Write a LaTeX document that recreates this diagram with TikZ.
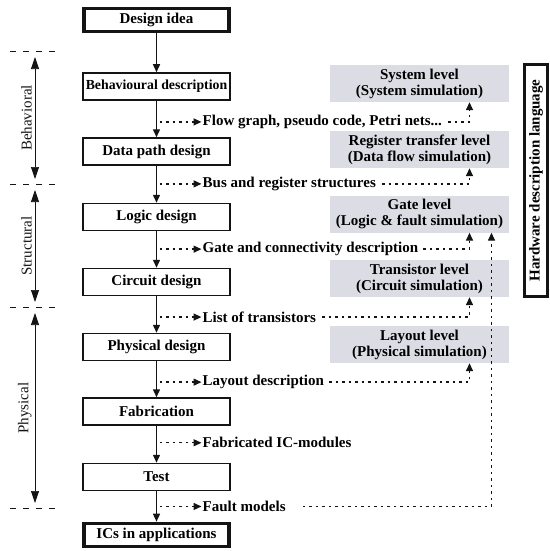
\documentclass[tikz,border=0pt]{standalone}
\usepackage{fontspec}
\setmainfont{Liberation Serif}
\usetikzlibrary{arrows.meta,calc}
\definecolor{levelgray}{HTML}{DCDCE5}
\definecolor{inkblack}{HTML}{141414}

\begin{document}
\begin{tikzpicture}[x=1pt,y=-1pt,
  stepbox/.style={draw=inkblack,line width=1.5pt,minimum width=147,minimum height=27,
    inner sep=1pt,font=\fontsize{15}{17}\selectfont\bfseries},
  endbox/.style={stepbox,line width=3.6pt,minimum width=145,minimum height=23},
  levelbox/.style={fill=levelgray,minimum width=179,minimum height=37,inner sep=0pt,
    align=center,font=\fontsize{15}{16}\selectfont\bfseries},
  outlbl/.style={anchor=west,inner sep=1pt,font=\fontsize{15}{17}\selectfont\bfseries},
  flow/.style={inkblack,line width=1.4pt,-{Triangle[length=8pt,width=7pt]}},
  dots/.style={inkblack,line width=1.4pt,dash pattern=on 2.5pt off 4pt},
  dotarrow/.style={dots,-{Triangle[length=8pt,width=7pt]}},
  phase/.style={inkblack,line width=0.7pt,
    {Triangle[length=12pt,width=8pt]}-{Triangle[length=12pt,width=8pt]}},
  phaselbl/.style={rotate=90,anchor=south,inner sep=3pt,font=\fontsize{15}{17}\selectfont},
  sep/.style={inkblack,line width=0.7pt,dash pattern=on 6pt off 7pt}
]
\useasboundingbox (0,0) rectangle (549,551);

% design flow
\node[endbox] (idea) at (156.5,20) {Design idea};
\node[stepbox,font=\fontsize{13.8}{17}\selectfont\bfseries] (behav) at (156.5,86.5) {Behavioural description};
\node[stepbox] (datapath) at (156.5,151.5) {Data path design};
\node[stepbox] (logic) at (156.5,217) {Logic design};
\node[stepbox] (circuit) at (156.5,282) {Circuit design};
\node[stepbox] (physical) at (156.5,347) {Physical design};
\node[stepbox] (fab) at (156.5,411.5) {Fabrication};
\node[stepbox] (test) at (156.5,477) {Test};
\node[endbox] (apps) at (156.5,535) {ICs in applications};

\foreach \a/\b in {idea/behav,behav/datapath,datapath/logic,logic/circuit,
  circuit/physical,physical/fab,fab/test,test/apps}
  \draw[flow] (\a.south) -- (\b.north);

% simulation levels
\node[levelbox] (sys) at (419.5,83.5) {System level\\(System simulation)};
\node[levelbox] (rtl) at (419.5,149.5) {Register transfer level\\(Data flow simulation)};
\node[levelbox] (gate) at (419.5,214) {Gate level\\(Logic \& fault simulation)};
\node[levelbox] (trans) at (419.5,278.5) {Transistor level\\(Circuit simulation)};
\node[levelbox] (layout) at (419.5,344.5) {Layout level\\(Physical simulation)};

\node[draw=inkblack,line width=3pt,rotate=90,minimum width=232,minimum height=23,
  inner sep=0pt,font=\fontsize{15}{17}\selectfont\bfseries] (hdl) at (536,180.5)
  {Hardware description language};

% outputs of each step
\foreach \a/\b/\r/\nm/\txt in {
  behav/datapath/0.58/flowlbl/{Flow graph, pseudo code, Petri nets...},
  datapath/logic/0.49/buslbl/{Bus and register structures},
  logic/circuit/0.49/gatelbl/{Gate and connectivity description},
  circuit/physical/0.57/translbl/{List of transistors},
  physical/fab/0.58/laylbl/{Layout description},
  fab/test/0.46/fablbl/{Fabricated IC-modules},
  test/apps/0.5/faultlbl/{Fault models}}{
  \coordinate (\nm-src) at ($(\a.south)!\r!(\b.north)$);
  \node[outlbl] (\nm) at ($(\nm-src)+(45,0)$) {\txt};
  \draw[dotarrow,shorten <=3pt] (\nm-src) -- (\nm.west);
}

\draw[dotarrow] ([xshift=5pt]flowlbl.east) -| ([xshift=50pt]sys.south);
\draw[dotarrow] ([xshift=5pt]buslbl.east) -| ([xshift=50pt]rtl.south);
\draw[dotarrow] ([xshift=4pt]gatelbl.east) -| ([xshift=50pt]gate.south);
\draw[dotarrow] ([xshift=5pt]translbl.east) -| ([xshift=50pt]trans.south);
\draw[dotarrow] ([xshift=4pt]laylbl.east) -| ([xshift=50pt]layout.south);
\draw[dotarrow] ([xshift=16pt]faultlbl.east) -| ([xshift=72pt]gate.south);

% abstraction domains
\foreach \y in {51,184,307,508}
  \draw[sep] (10,\y) -- (57,\y);

\coordinate (behtop) at (35,57);
\coordinate (behbot) at (35,179);
\coordinate (strtop) at (35,190);
\coordinate (strbot) at (35,302);
\coordinate (phytop) at (35,313);
\coordinate (phybot) at (35,503);
\draw[phase] (behtop) -- (behbot) node[phaselbl,midway] {Behavioral};
\draw[phase] (strtop) -- (strbot) node[phaselbl,midway] {Structural};
\draw[phase] (phytop) -- (phybot) node[phaselbl,midway] {Physical};

\end{tikzpicture}
\end{document}
